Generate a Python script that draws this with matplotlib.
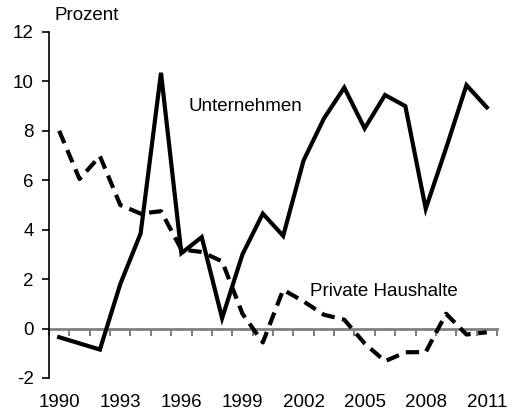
import matplotlib
matplotlib.use("Agg")
import matplotlib.pyplot as plt
import numpy as np

years = list(range(1990, 2012))
unternehmen = [-0.35, -0.6, -0.85, 1.8, 3.85, 10.35, 3.05, 3.7, 0.42, 3.0, 4.65, 3.75,
               6.8, 8.5, 9.75, 8.1, 9.45, 9.0, 4.85, 7.3, 9.85, 8.95]
haushalte = [8.0, 6.05, 6.98, 5.0, 4.65, 4.75, 3.2, 3.1, 2.72, 0.6, -0.56, 1.57,
             1.1, 0.56, 0.36, -0.6, -1.32, -0.96, -0.95, 0.6, -0.24, -0.15]
xtick_labels = [1990, 1993, 1996, 1999, 2002, 2005, 2008, 2011]
yticks = [-2, 0, 2, 4, 6, 8, 10, 12]

plt.rcParams['font.family'] = ['Liberation Sans', 'DejaVu Sans']

fig = plt.figure(figsize=(5.14, 4.16), dpi=100)
ax = fig.add_axes([49/514, 1-378/416, 448/514, 346/416])

ax.plot(years, unternehmen, color='black', lw=3.0, solid_joinstyle='miter')
ax.plot(years, haushalte, color='black', lw=3.0, linestyle=(0, (3.2, 1.8)))

ax.set_xlim(1989.5, 2011.5)
ax.set_ylim(-2, 12)
ax.set_yticks(yticks)
ax.set_yticklabels([str(v) for v in yticks])

for s in ['top', 'right']:
    ax.spines[s].set_visible(False)
ax.spines['left'].set_linewidth(1.2)
ax.spines['bottom'].set_position(('data', 0))
ax.spines['bottom'].set_color('#808080')
ax.spines['bottom'].set_linewidth(2)
ax.spines['bottom'].set_zorder(0)

ax.set_xticks(xtick_labels)
ax.set_xticklabels([str(v) for v in xtick_labels])
ax.set_xticks(np.arange(1989.5, 2012.0, 1.0), minor=True)
ax.tick_params(axis='x', which='major', length=0, pad=47, labelsize=13.5)
ax.tick_params(axis='x', which='minor', length=5, width=1.5, color='#808080', direction='out')
ax.tick_params(axis='y', length=5, width=1.2, direction='out', pad=6, labelsize=13.5)

ax.text(1996.33, 8.98, 'Unternehmen', fontsize=13.5, va='center', ha='left')
ax.text(2002.32, 1.5, 'Private Haushalte', fontsize=13.5, va='center', ha='left')
fig.text(55/514, 1-15/416, 'Prozent', fontsize=13.5, va='center', ha='left')

fig.savefig('out.png', dpi=100)
